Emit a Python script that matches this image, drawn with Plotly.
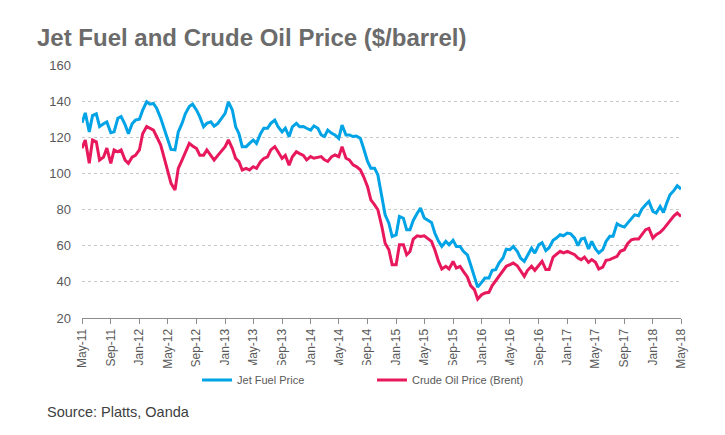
import pandas as pd
import plotly.graph_objects as go

# half-monthly readings, May-11 .. May-18
dates = pd.date_range("2011-05-01", "2018-05-01", freq="SMS")

jet_fuel = [
    128, 133.5, 123, 132, 133, 126, 127.5, 128.5, 122.5, 123,
    130.5, 131.5, 127, 122, 127.5, 129.5, 130, 135, 139.6, 138.3,
    138.7, 136, 130.5, 125, 118.5, 113.3, 113, 123, 127.7, 133,
    137, 138.3, 135, 131.3, 125.8, 127.7, 128.6, 126.2, 127.7, 130.4,
    133.2, 139.6, 135, 125.8, 122, 114.8, 114.8, 116.6, 118.5, 116.6,
    122, 125, 125, 127.7, 129.5, 125.8, 123, 125, 120.3, 125.8,
    127.7, 125.8, 126, 125, 124, 126.3, 125, 121.3, 120.4, 124,
    122.2, 121.3, 119.4, 126.8, 121.3, 121.3, 120.4, 120.7, 119.4, 113.9,
    106.6, 102.9, 102.9, 99.2, 87.2, 77.1, 72.5, 65.1, 66, 76.2,
    75.2, 68.8, 68.8, 74, 78, 80.8, 75.3, 74, 72.9, 67,
    62.4, 59.6, 62.4, 60.5, 63, 59.6, 59.6, 56.9, 55, 49.5,
    42.1, 37.1, 39.7, 42.1, 42.1, 46.4, 46.7, 50.4, 53.2, 58.1,
    57.8, 59.6, 56.9, 53.2, 51.3, 55, 58.7, 55.9, 60.5, 61.7,
    57.3, 58.9, 63, 64.2, 66.1, 65.5, 67, 66.6, 64.2, 60,
    63.7, 64.2, 58.2, 62.4, 58.2, 56, 57.8, 62.4, 65.2, 65.2,
    72.2, 71.1, 70.3, 72.5, 75.3, 77.1, 76.6, 80.3, 82.7, 84.5,
    79, 78.1, 81.7, 78.4, 83.6, 88.2, 90.6, 93.2, 91.3,
]

crude_brent = [
    114, 118.5, 105.6, 118.5, 117.5, 107.4, 109, 114, 105.6, 113,
    112, 113, 107.4, 105.6, 109, 110, 113, 122, 126, 125,
    124, 120.3, 115.7, 109, 102, 94.5, 90.8, 102.8, 107.4, 112,
    116.6, 115.2, 113.8, 110, 110, 113, 110, 107.4, 110, 112,
    114.8, 118.5, 113.8, 108.3, 106.5, 101.9, 102.8, 101.9, 103.7, 102.8,
    106.5, 108.3, 109.2, 113, 114.8, 112, 108.3, 110, 104.6, 109.2,
    112, 111, 110, 107.5, 109.3, 108.4, 108.8, 109.3, 107.5, 106.6,
    109.3, 110.2, 109.3, 114.8, 108.4, 107.5, 104.7, 103.8, 102, 98.3,
    92.7, 85.4, 82.6, 79.9, 70.6, 61.4, 57.8, 49.5, 49.5, 60.5,
    60.5, 55, 56.8, 63.7, 65.5, 65.1, 65.5, 63.9, 62.4, 57.8,
    51.3, 47.1, 48.6, 47.1, 51.3, 47.6, 48.6, 45.8, 42.7, 37.9,
    35.7, 30.5, 32.9, 33.8, 34.2, 37.9, 40.6, 43.4, 45.8, 48.6,
    49.5, 50.4, 48.9, 45.8, 43, 46.4, 48.6, 46.4, 49.5, 51.4,
    46.8, 46.8, 53.7, 55.4, 56.9, 56, 56.9, 56, 55, 53.2,
    52.3, 53.7, 50.8, 52.3, 50.8, 47.1, 48.2, 51.9, 52.3, 53.2,
    54.1, 56.9, 57.8, 61.1, 63.3, 63.7, 63.7, 66.1, 68.9, 69.6,
    64.2, 66.1, 67.4, 69.2, 71.6, 73.5, 76.6, 78.1, 76.2,
]

tick_dates = pd.date_range("2011-05-01", "2018-05-01", freq="4MS")
tick_labels = [d.strftime("%b-%y") for d in tick_dates]

fig = go.Figure()
fig.add_trace(go.Scatter(x=dates, y=jet_fuel, mode="lines", name="Jet Fuel Price",
                         line=dict(color="#00A3E6", width=3)))
fig.add_trace(go.Scatter(x=dates, y=crude_brent, mode="lines", name="Crude Oil Price (Brent)",
                         line=dict(color="#E8185C", width=3)))

# page body has an 8px margin, so the figure is a bit smaller than the window
fig.update_layout(
    width=717, height=427,
    margin=dict(l=74, r=44, t=57, b=117),
    paper_bgcolor="white", plot_bgcolor="white",
    font=dict(family="Liberation Sans, Arial, sans-serif", color="#595959"),
    showlegend=True,
    legend=dict(orientation="h", x=0.192, xanchor="left", y=-0.245, yanchor="middle",
                font=dict(size=11, color="#595959"), entrywidth=130, itemwidth=30),
    annotations=[
        dict(text="<b>Jet Fuel and Crude Oil Price ($/barrel)</b>", xref="paper", yref="paper",
             x=-0.078, y=1.11, xanchor="left", yanchor="middle", showarrow=False,
             font=dict(size=24, color="#6b6b6b")),
        dict(text="Source: Platts, Oanda", xref="paper", yref="paper",
             x=-0.062, y=-0.37, xanchor="left", yanchor="middle", showarrow=False,
             font=dict(size=14.5, color="#404040")),
    ],
)

fig.update_xaxes(
    range=[dates[0], dates[-1]],
    tickvals=tick_dates, ticktext=tick_labels, tickangle=-90,
    tickfont=dict(size=12, color="#595959"),
    showgrid=False, showline=True, linecolor="#8c8c8c", linewidth=1,
    ticks="outside", ticklen=5, tickcolor="#8c8c8c",
)
fig.update_yaxes(
    range=[20, 160], dtick=20,
    tickfont=dict(size=13, color="#595959"), ticklabelstandoff=10,
    showgrid=True, gridcolor="#c8c8c8", griddash="dot", gridwidth=1,
    showline=False, zeroline=False, ticks="",
)

fig.write_html("out.html")
